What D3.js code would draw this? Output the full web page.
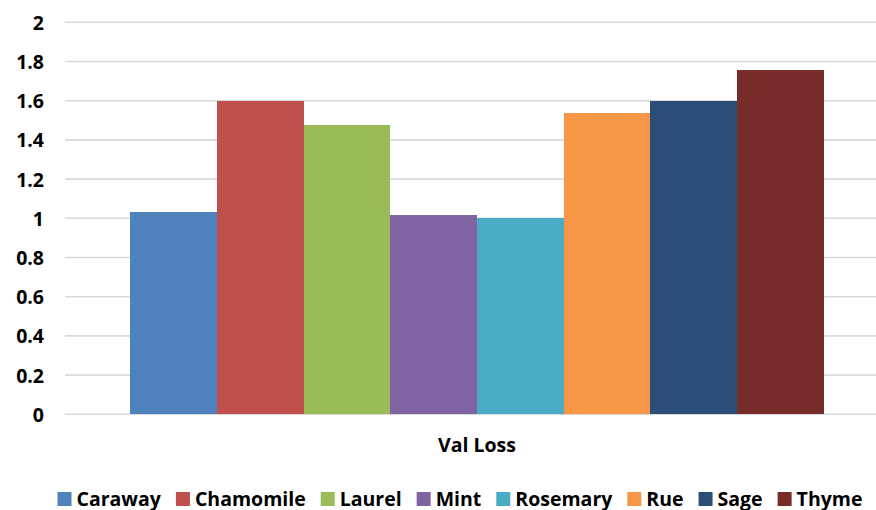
<!DOCTYPE html>
<html>
<head>
<meta charset="utf-8">
<script src="https://cdn.jsdelivr.net/npm/d3@7"></script>
<style>
  html, body { margin: 0; padding: 0; background: #ffffff; }
  svg { display: block; }
  text { font-family: "Open Sans", sans-serif; font-weight: 700; fill: #000; }
</style>
</head>
<body>
<svg id="chart" width="876" height="510"></svg>
<script>
// Validation loss per herb model
const categories = ["Val Loss"];
const series = ["Caraway", "Chamomile", "Laurel", "Mint", "Rosemary", "Rue", "Sage", "Thyme"];
const values = [1.032, 1.598, 1.476, 1.017, 1.003, 1.537, 1.598, 1.757];
const colors = ["#4f81bd", "#c0504d", "#9bbb59", "#8064a2", "#4bacc6", "#f79646", "#2c4d75", "#772c2a"];
const yTicks = [0, 0.2, 0.4, 0.6, 0.8, 1, 1.2, 1.4, 1.6, 1.8, 2];

const svg = d3.select("#chart");
const plot = { left: 65, right: 889, top: 22.3, bottom: 414.3 };

const y = d3.scaleLinear().domain([0, 2]).range([plot.bottom, plot.top]);

// one category band; 150% gap width split on both sides
const x0 = d3.scaleBand().domain(categories).range([plot.left, plot.right])
  .paddingInner(0).paddingOuter(0.75 / 8);
const x1 = d3.scaleBand().domain(series).range([0, x0.bandwidth()]).padding(0);

// horizontal gridlines
svg.append("g")
  .selectAll("line")
  .data(yTicks)
  .join("line")
  .attr("x1", plot.left)
  .attr("x2", plot.right)
  .attr("y1", d => y(d))
  .attr("y2", d => y(d))
  .attr("stroke", "#d9d9d9")
  .attr("stroke-width", 1.6);

// y axis labels
const yAxis = d3.axisLeft(y).tickValues(yTicks).tickSize(0).tickPadding(0)
  .tickFormat(d3.format("~g"));
const gy = svg.append("g").attr("transform", "translate(44,0)").call(yAxis);
gy.select(".domain").remove();
gy.selectAll("text")
  .attr("font-family", null)
  .attr("font-size", null)
  .style("font-size", "19.5px")
  .attr("dy", "0.36em");

// bars
const g = svg.append("g").attr("shape-rendering", "crispEdges");
categories.forEach(cat => {
  g.selectAll("rect.bar")
    .data(series.map((s, i) => ({ s, v: values[i], c: colors[i] })))
    .join("rect")
    .attr("class", "bar")
    .attr("x", d => x0(cat) + x1(d.s))
    .attr("width", x1.bandwidth())
    .attr("y", d => y(d.v))
    .attr("height", d => y(0) - y(d.v))
    .attr("fill", d => d.c);
});

// category label
svg.append("g")
  .selectAll("text")
  .data(categories)
  .join("text")
  .attr("x", d => x0(d) + x0.bandwidth() / 2)
  .attr("y", 452)
  .attr("text-anchor", "middle")
  .style("font-size", "19.5px")
  .text(d => d);

// legend, laid out left to right and centred
const legend = svg.append("g");
const items = legend.selectAll("g")
  .data(series.map((s, i) => ({ s, c: colors[i] })))
  .join("g");
items.append("rect")
  .attr("width", 14).attr("height", 14)
  .attr("y", 492)
  .attr("fill", d => d.c);
items.append("text")
  .attr("x", 19)
  .attr("y", 505.5)
  .style("font-size", "19.5px")
  .text(d => d.s);

let cursor = 0;
const offsets = [];
items.each(function () {
  const w = this.querySelector("text").getComputedTextLength();
  offsets.push(cursor);
  cursor += 19 + w + 15;
});
const total = cursor - 15;
const startX = 460 - total / 2;
items.attr("transform", (d, i) => `translate(${startX + offsets[i]},0)`);
</script>
</body>
</html>
